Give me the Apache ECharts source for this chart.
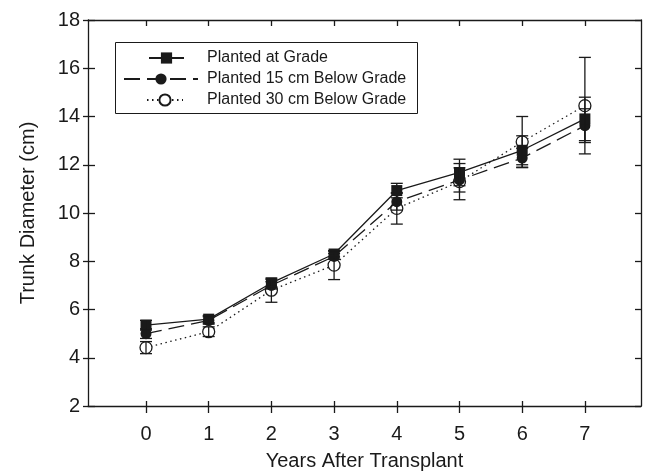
<!DOCTYPE html>
<html><head><meta charset="utf-8">
<script src="https://cdn.jsdelivr.net/npm/echarts@6/dist/echarts.min.js"></script>
<style>html,body{margin:0;padding:0;background:#fff}#c{width:647px;height:472px}</style>
</head><body><div id="c"></div>
<script>
const years = [0, 1, 2, 3, 4, 5, 6, 7];
const xTickValues = [0, 1, 2, 3, 4, 5, 6, 7];
const seriesNames = ['Planted at Grade', 'Planted 15 cm Below Grade', 'Planted 30 cm Below Grade'];
const gradeMean = [5.35, 5.6, 7.1, 8.3, 10.93, 11.68, 12.6, 13.9];
const gradeErr  = [0.2, 0.15, 0.15, 0.12, 0.3, 0.55, 0.6, 0.9];
const below15Mean = [5.0, 5.55, 7.0, 8.2, 10.47, 11.37, 12.28, 13.62];
const below15Err  = [0.2, 0.15, 0.15, 0.12, 0.35, 0.5, 0.4, 0.7];
const below30Mean = [4.42, 5.08, 6.8, 7.84, 10.19, 11.3, 12.95, 14.45];
const below30Err  = [0.25, 0.2, 0.5, 0.6, 0.65, 0.75, 1.05, 2.0];

const FONT = 'Liberation Sans, Arial, sans-serif';
const INK = '#1a1a1a';
const XMIN = -0.925, XMAX = 7.895;

function errRender(params, api) {
  const x = api.value(0), lo = api.value(1), hi = api.value(2);
  const p1 = api.coord([x, hi]), p2 = api.coord([x, lo]);
  const w = 6;
  const st = { stroke: INK, lineWidth: 1.3 };
  return { type: 'group', children: [
    { type: 'line', shape: { x1: p1[0], y1: p1[1], x2: p2[0], y2: p2[1] }, style: st },
    { type: 'line', shape: { x1: p1[0] - w, y1: p1[1], x2: p1[0] + w, y2: p1[1] }, style: st },
    { type: 'line', shape: { x1: p2[0] - w, y1: p2[1], x2: p2[0] + w, y2: p2[1] }, style: st }
  ]};
}
function errData(mean, err) { return years.map((x, i) => [x, mean[i] - err[i], mean[i] + err[i]]); }
function ptData(mean) { return years.map((x, i) => [x, mean[i]]); }

const axisBase = { type: 'value', min: XMIN, max: XMAX, splitLine: { show: false } };
const yBase = { type: 'value', min: 2, max: 18, interval: 2, splitLine: { show: false } };
const tickStyle = { color: INK, width: 1.3 };

const chart = echarts.init(document.getElementById('c'), null, { renderer: 'canvas' });
const legendText = { fontFamily: FONT, fontSize: 16, color: INK };
chart.setOption({
  animation: false,
  backgroundColor: '#fff',
  grid: { left: 88, right: 6, top: 20, bottom: 66, containLabel: false, outerBoundsMode: 'none' },
  xAxis: [
    Object.assign({}, axisBase, {
      position: 'bottom',
      name: 'Years After Transplant', nameLocation: 'middle', nameGap: 45,
      nameTextStyle: { fontFamily: FONT, fontSize: 20, color: INK },
      axisLine: { show: true, onZero: false, lineStyle: tickStyle },
      axisTick: { show: true, inside: false, length: 7, customValues: xTickValues, lineStyle: tickStyle },
      axisLabel: { show: true, customValues: xTickValues, margin: 18, fontFamily: FONT, fontSize: 20, color: INK }
    }),
    Object.assign({}, axisBase, {
      position: 'bottom',
      axisLine: { show: false, onZero: false },
      axisTick: { show: true, inside: true, length: 5, customValues: xTickValues, lineStyle: tickStyle },
      axisLabel: { show: false }
    }),
    Object.assign({}, axisBase, {
      position: 'top',
      axisLine: { show: true, onZero: false, lineStyle: tickStyle },
      axisTick: { show: true, inside: true, length: 6, customValues: xTickValues, lineStyle: tickStyle },
      axisLabel: { show: false }
    })
  ],
  yAxis: [
    Object.assign({}, yBase, {
      position: 'left',
      name: 'Trunk Diameter (cm)', nameLocation: 'middle', nameGap: 50, nameRotate: 90,
      nameTextStyle: { fontFamily: FONT, fontSize: 20, color: INK },
      axisLine: { show: true, onZero: false, lineStyle: tickStyle },
      axisTick: { show: true, inside: false, length: 5, lineStyle: tickStyle },
      axisLabel: { show: true, margin: 8, fontFamily: FONT, fontSize: 20, color: INK }
    }),
    Object.assign({}, yBase, {
      position: 'left',
      axisLine: { show: false, onZero: false },
      axisTick: { show: true, inside: true, length: 7, lineStyle: tickStyle },
      axisLabel: { show: false }
    }),
    Object.assign({}, yBase, {
      position: 'right',
      axisLine: { show: true, onZero: false, lineStyle: tickStyle },
      axisTick: { show: true, inside: true, length: 6, lineStyle: tickStyle },
      axisLabel: { show: false }
    })
  ],
  legend: [
    { data: [seriesNames[0]], left: 148, top: 50, padding: 0, itemWidth: 35, itemHeight: 14,
      textStyle: Object.assign({ padding: [0, 0, 0, 18] }, legendText) },
    { data: [seriesNames[1]], left: 123, top: 71, padding: 0, itemWidth: 74, itemHeight: 14,
      textStyle: Object.assign({ padding: [0, 0, 0, 4] }, legendText) },
    { data: [seriesNames[2]], left: 146, top: 92, padding: 0, itemWidth: 36, itemHeight: 14,
      textStyle: Object.assign({ padding: [0, 0, 0, 19] }, legendText) }
  ],
  graphic: [{
    type: 'rect', shape: { x: 115.5, y: 42.5, width: 302, height: 71 },
    style: { fill: 'none', stroke: INK, lineWidth: 1 }, z: 10
  }],
  series: [
    { name: seriesNames[0], type: 'line', data: ptData(gradeMean), symbol: 'rect', symbolSize: 11,
      lineStyle: { color: INK, width: 1.3, type: 'solid' }, itemStyle: { color: INK }, z: 4 },
    { name: seriesNames[1], type: 'line', data: ptData(below15Mean), symbol: 'circle', symbolSize: 11,
      lineStyle: { color: INK, width: 1.3, type: [16, 7] }, itemStyle: { color: INK }, z: 3 },
    { name: seriesNames[2], type: 'line', data: ptData(below30Mean), symbol: 'circle', symbolSize: 12,
      lineStyle: { color: INK, width: 1.3, type: [1.5, 3.5] },
      itemStyle: { color: '#fff', borderColor: INK, borderWidth: 1.3 }, z: 2 },
    { name: 'err30', type: 'custom', renderItem: errRender, data: errData(below30Mean, below30Err),
      encode: { x: 0, y: [1, 2] }, z: 5 },
    { name: 'err15', type: 'custom', renderItem: errRender, data: errData(below15Mean, below15Err),
      encode: { x: 0, y: [1, 2] }, z: 5 },
    { name: 'errG', type: 'custom', renderItem: errRender, data: errData(gradeMean, gradeErr),
      encode: { x: 0, y: [1, 2] }, z: 5 }
  ]
});
</script></body></html>
